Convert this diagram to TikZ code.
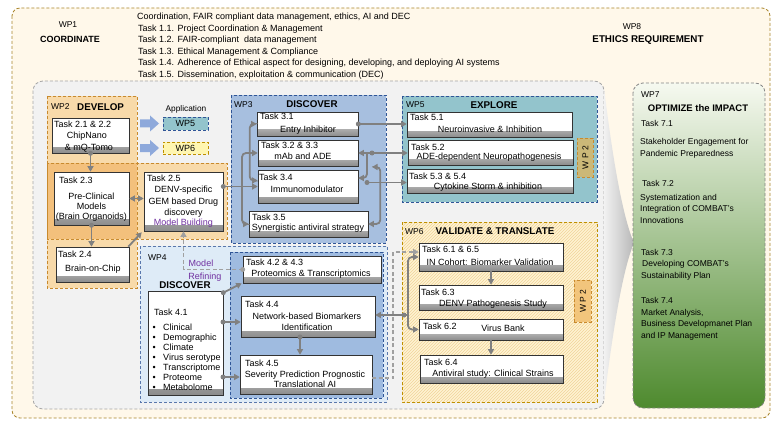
\documentclass[tikz,border=0pt]{standalone}
\usepackage{fontspec}
\setmainfont{Liberation Sans}
\usetikzlibrary{arrows.meta,patterns,fit,calc}
\newcommand{\fnine}{\fontsize{9}{11}\selectfont}
\newcommand{\fhd}{\fontsize{9.8}{11}\selectfont\bfseries}
\newcommand{\fwp}{\fontsize{8.5}{10}\selectfont}
\newcommand{\fsvn}{\fontsize{8.5}{10}\selectfont}
\definecolor{outerfill}{HTML}{FFF8EA}
\definecolor{outerdraw}{HTML}{A8842A}
\definecolor{grayfill}{HTML}{F2F2F2}
\definecolor{graydraw}{HTML}{A6A6A6}
\definecolor{wptwoA}{HTML}{F8DAAA}
\definecolor{wptwoB}{HTML}{F3C07C}
\definecolor{wptwodraw}{HTML}{C88A2E}
\definecolor{wpthree}{HTML}{A7BFDF}
\definecolor{bluedraw}{HTML}{2F5597}
\definecolor{wpfour}{HTML}{DEEBF7}
\definecolor{wpfourin}{HTML}{9FBBE0}
\definecolor{wpfive}{HTML}{93C4CC}
\definecolor{wpsix}{HTML}{FFF3D2}
\definecolor{wpsixdraw}{HTML}{BF9000}
\definecolor{hatchc}{HTML}{F0D49A}
\definecolor{tagfive}{HTML}{CBB878}
\definecolor{tagsix}{HTML}{F2C57C}
\definecolor{cgray}{HTML}{808080}
\definecolor{cdash}{HTML}{A0A0A0}
\definecolor{cblk}{HTML}{8EA9DB}
\definecolor{purp}{HTML}{7030A0}
\definecolor{gtop}{HTML}{F6F9F0}
\definecolor{gmid}{HTML}{E1EDD3}
\definecolor{gbot}{HTML}{4E8A2E}
\newcommand{\tbox}[5]{\node[taskbox, fit={(#2,#3) (#4,#5)}] (#1) {};}
\begin{document}
\begin{tikzpicture}[x=1pt,y=-1pt,
  tx/.style={font=\fnine, inner sep=0pt, anchor=base},
  txl/.style={tx, anchor=base west},
  hd/.style={font=\fhd, inner sep=0pt, anchor=base},
  wpl/.style={font=\fwp, inner sep=0pt, anchor=base west},
  sv/.style={font=\fsvn, inner sep=0pt, anchor=base west},
  bdash/.style={dash pattern=on 3pt off 2pt, line width=0.8pt},
  taskbox/.style={draw=black!80, line width=0.6pt, fill=white, inner sep=0pt,
    path picture={\shade[top color=white,bottom color=black!45]
      ([yshift=6pt]path picture bounding box.south west) rectangle (path picture bounding box.south east);}},
  conn/.style={draw=cgray, line width=1.8pt, -{Triangle[length=5.5pt,width=6pt]}},
  conn2/.style={draw=cgray, line width=1.8pt, {Triangle[length=5.5pt,width=6pt]}-{Triangle[length=5.5pt,width=6pt]}},
  dconn/.style={conn, draw=cdash, dash pattern=on 4pt off 2.5pt},
  tag/.style={draw=wptwodraw, bdash, inner sep=0pt, font=\fwp}
]
\useasboundingbox (0,0) rectangle (780,428);

% outer WP1 / WP8
\draw[bdash, draw=outerdraw, fill=outerfill, rounded corners=8pt] (12,8) rectangle (770,418);
\node[tx, font=\fwp] (wp1) at (68,28) {WP1};
\node[hd, font=\fontsize{9}{11}\selectfont\bfseries] (coord) at (70,43) {COORDINATE};
\node[txl] (h0) at (137,20) {Coordination, FAIR compliant data management, ethics, AI and DEC};
\node[txl] (h1) at (138,31.5) {Task 1.1. Project Coordination \& Management};
\node[txl] (h2) at (138,43) {Task 1.2. FAIR-compliant\ \ data management};
\node[txl] (h3) at (138,54.5) {Task 1.3. Ethical Management \& Compliance};
\node[txl] (h4) at (138,66) {Task 1.4. Adherence of Ethical aspect for designing, developing, and deploying AI systems};
\node[txl] (h5) at (138,77.5) {Task 1.5. Dissemination, exploitation \& communication (DEC)};
\node[tx, font=\fwp] (wp8) at (632,30) {WP8};
\node[hd] (eth) at (648,42.5) {ETHICS REQUIREMENT};

% gray box
\draw[bdash, draw=graydraw, fill=grayfill, rounded corners=10pt] (33,81) rectangle (604,409);
% chevron
\shade[left color=grayfill, right color=black!28] (604,88) .. controls (614,170) and (624,220) .. (634,243) .. controls (624,266) and (614,320) .. (604,402) -- cycle;

% WP7
\shade[top color=gtop, middle color=gmid, bottom color=gbot, rounded corners=10pt] (633,83) rectangle (765,408);
\draw[bdash, draw=graydraw!80!black, rounded corners=10pt] (633,83) rectangle (765,408);
\node[sv] (wp7) at (641,98) {WP7};
\node[hd, font=\fontsize{9.5}{11}\selectfont\bfseries] (opt) at (698,111.5) {OPTIMIZE the IMPACT};
\node[sv] (t71) at (641,126) {Task 7.1};
\node[sv] (t71a) at (640,145) {Stakeholder Engagement for};
\node[sv] (t71b) at (640,156) {Pandemic Preparedness};
\node[sv] (t72) at (642,186) {Task 7.2};
\node[sv] (t72a) at (640,200) {Systematization and};
\node[sv] (t72b) at (640,211) {Integration of COMBAT's};
\node[sv] (t72c) at (640,223) {Innovations};
\node[sv] (t73) at (641,255) {Task 7.3};
\node[sv] (t73a) at (642,266) {Developing COMBAT's};
\node[sv] (t73b) at (641,278) {Sustainability Plan};
\node[sv] (t74) at (641,303) {Task 7.4};
\node[sv] (t74a) at (641,315) {Market Analysis,};
\node[sv] (t74b) at (641,326) {Business Developmanet Plan};
\node[sv] (t74c) at (641,338) {and IP Management};

% WP2
\fill[wptwoA] (47,96) rectangle (137,288);
\fill[wptwoA] (47,163) rectangle (227,239);
\fill[wptwoB] (47,163) rectangle (137,239);
\draw[bdash, draw=wptwodraw] (47,96) rectangle (137,288);
\draw[bdash, draw=wptwodraw] (47,163) rectangle (227,239);
\node[wpl] (wp2) at (51,110) {WP2};
\node[hd, anchor=base west] (dev) at (77,110.5) {DEVELOP};

% Application legend
\node[tx, font=\fontsize{8.3}{10}\selectfont] (app) at (186,112) {Application};
\node[draw=bluedraw, bdash, fill=wpfive, minimum width=45pt, minimum height=13pt, inner sep=0pt, font=\fnine] (ap5) at (185.5,123.5) {WP5};
\node[draw=wpsixdraw, bdash, fill=wpsix!80!yellow!90, minimum width=45pt, minimum height=12pt, inner sep=0pt, font=\fnine] (ap6) at (185.5,148) {WP6};
\fill[cblk] (140,119.5) -- (150,119.5) -- (150,115.5) -- (159,123.5) -- (150,131.5) -- (150,127.5) -- (140,127.5) -- cycle;
\fill[cblk] (140,144) -- (150,144) -- (150,140) -- (159,148) -- (150,156) -- (150,152) -- (140,152) -- cycle;

\tbox{t21}{52}{118}{129}{153}
\node[txl] (t21a) at (54,128) {Task 2.1 \& 2.2};
\node[tx] (t21b) at (87,139) {ChipNano};
\node[tx] (t21c) at (89,150) {\& mQ-Tomo};

\tbox{t23}{54}{172}{129}{225}
\node[txl] (t23a) at (59,183) {Task 2.3};
\node[tx] (t23b) at (91.5,199) {Pre-Clinical};
\node[tx] (t23c) at (91.5,209.5) {Models};
\node[tx] (t23d) at (91.5,219.5) {(Brain Organoids)};

\tbox{t25}{144}{172}{223}{231}
\node[txl] (t25a) at (147,181) {Task 2.5};
\node[tx] (t25b) at (183.5,192) {DENV-specific};
\node[tx] (t25c) at (183.5,204) {GEM based Drug};
\node[tx] (t25d) at (183.5,215) {discovery};
\node[tx, text=purp] (t25e) at (183.5,225.7) {Model Building};

\tbox{t24}{56}{247}{129}{282}
\node[txl] (t24a) at (58,257) {Task 2.4};
\node[tx] (t24b) at (93,271) {Brain-on-Chip};

% WP3
\draw[bdash, draw=bluedraw, fill=wpthree] (231,95) rectangle (386,243);
\node[wpl] (wp3) at (234,108) {WP3};
\node[hd] (dis3) at (312,107.5) {DISCOVER};
\tbox{t31}{257}{112}{358}{136}
\node[txl] (t31a) at (260,120) {Task 3.1};
\node[tx] (t31b) at (308,132) {Entry Inhibitor};
\tbox{t32}{258}{140}{358}{166}
\node[txl] (t32a) at (261,149) {Task 3.2 \& 3.3};
\node[tx] (t32b) at (303,159) {mAb and ADE};
\tbox{t34}{258}{170}{358}{203}
\node[txl] (t34a) at (259,180) {Task 3.4};
\node[tx] (t34b) at (307,192) {Immunomodulator};
\tbox{t35}{249}{211}{368}{237}
\node[txl] (t35a) at (252,220) {Task 3.5};
\node[tx] (t35b) at (308,230.5) {Synergistic antiviral strategy};

% WP4
\draw[bdash, draw=bluedraw!80, fill=wpfour] (140,246) rectangle (387,402);
\draw[bdash, draw=bluedraw, fill=wpfourin] (230,252) rectangle (383,398);
\node[wpl] (wp4) at (148,260) {WP4};
\node[hd] (dis4) at (185,288.5) {DISCOVER};
\node[tx, text=purp] (mr1) at (201,266.5) {Model};
\node[tx, text=purp] (mr2) at (205,279) {Refining};
\tbox{t41}{148}{291}{223}{395}
\node[txl] (t41a) at (154,315) {Task 4.1};
\foreach \i/\w [count=\k] in {330/Clinical,340/Demographic,350/Climate,360/Virus serotype,370/Transcriptome,380/Proteome,390/Metabolome}{
  \node[txl] (b\k) at (152.5,\i) {\textbullet};
  \node[txl] (l\k) at (163,\i) {\w};
}
\tbox{t42}{243}{256}{381}{283}
\node[txl] (t42a) at (246,265) {Task 4.2 \& 4.3};
\node[tx] (t42b) at (311,276) {Proteomics \& Transcriptomics};
\tbox{t44}{241}{296}{375}{337}
\node[txl] (t44a) at (245,307) {Task 4.4};
\node[tx] (t44b) at (307,319) {Network-based Biomarkers};
\node[tx] (t44c) at (307,330) {Identification};
\tbox{t45}{240}{355}{372}{394}
\node[txl] (t45a) at (245,366) {Task 4.5};
\node[tx] (t45b) at (305,377) {Severity Prediction Prognostic};
\node[tx] (t45c) at (305,387.5) {Translational AI};

% WP5
\draw[bdash, draw=bluedraw, fill=wpfive] (402,96) rectangle (597,202);
\node[wpl] (wp5) at (406,108) {WP5};
\node[hd] (exp) at (494,108.5) {EXPLORE};
\tbox{t51}{407}{112}{572}{137}
\node[txl] (t51a) at (410,121) {Task 5.1};
\node[tx] (t51b) at (490,132) {Neuroinvasive \& Inhibition};
\tbox{t52}{408}{140}{573}{165}
\node[txl] (t52a) at (411,150) {Task 5.2};
\node[tx] (t52b) at (489,160) {ADE-dependent Neuropathogenesis};
\tbox{t53}{407}{169}{573}{193}
\node[txl] (t53a) at (409,179) {Task 5.3 \& 5.4};
\node[tx] (t53b) at (488,189) {Cytokine Storm \& inhibition};
\node[tag, fill=tagfive, minimum width=16pt, minimum height=39pt] (tg5) at (585,157.5) {};
\node[font=\fwp, rotate=90, inner sep=0pt] (tg5t) at (585.5,157.5) {W P 2};

% WP6
\fill[wpsix] (402,222) rectangle (597,402);
\fill[pattern=north east lines, pattern color=hatchc] (402,222) rectangle (597,402);
\draw[bdash, draw=wpsixdraw] (402,222) rectangle (597,402);
\node[wpl] (wp6) at (405,234) {WP6};
\node[hd] (val) at (495,234.5) {VALIDATE \& TRANSLATE};
\tbox{t61}{419}{243}{563}{271}
\node[txl] (t61a) at (422,252) {Task 6.1 \& 6.5};
\node[tx] (t61b) at (490,265) {IN Cohort: Biomarker Validation};
\tbox{t63}{419}{285}{563}{310}
\node[txl] (t63a) at (421,295) {Task 6.3};
\node[tx] (t63b) at (493,306) {DENV Pathogenesis Study};
\tbox{t62}{419}{319}{563}{340}
\node[txl] (t62a) at (423,329) {Task 6.2};
\node[tx] (t62b) at (503,331) {Virus Bank};
\tbox{t64}{420}{355}{563}{383}
\node[txl] (t64a) at (424,365) {Task 6.4};
\node[tx] (t64b) at (493,376) {Antiviral study: Clinical Strains};
\node[tag, fill=tagsix, minimum width=17pt, minimum height=42pt] (tg6) at (582.5,301) {};
\node[font=\fwp, rotate=90, inner sep=0pt] (tg6t) at (583,301) {W P 2};

% ---- connectors ----
\fill[cgray] (t21.south) circle (2.5pt);
\draw[conn] (t21.south) -- (t21.south |- t23.north);
\draw[conn2] (t23.east) -- (t23.east -| t25.west);
\fill[cgray] (t23.south) circle (2.5pt);
\draw[conn] (t23.south) -- (t23.south |- t24.north);
\draw[conn] ([xshift=-1pt]t24.north east) -- ([xshift=-2pt,yshift=-1pt]t25.south west);

\coordinate (s25) at (t25.east |- t34.west);
\coordinate (j3) at (242,186.5);
\draw[conn, rounded corners=4pt] (j3) |- (t32.west);
\draw[conn, rounded corners=4pt] (j3) |- (t35.west);
\draw[conn] (s25) -- (t34.west);
\fill[cgray] (s25) circle (2.5pt);
\draw[conn2, rounded corners=4pt] (t31.west) -- ++(-7,0) |- ([yshift=6pt]t34.west);

\fill[cgray] (t31.east) circle (2.5pt);
\draw[conn] (t31.east) -- (t31.east -| t51.west);
\coordinate (j32) at (367,153);
\coordinate (d32) at (372,153);
\draw[conn] (d32) -- (t32.east);
\draw[conn] (d32) -- (d32 -| t52.west);
\draw[conn, rounded corners=4pt] (j32) |- ([yshift=8.5pt]t34.east);
\fill[cgray] (d32) circle (2.5pt);
\coordinate (d34) at (367,182.5);
\fill[cgray] (d34) circle (2.5pt);
\draw[conn] (d34) -- (d34 -| t53.west);
\coordinate (f35) at (372,167);
\draw[conn2, rounded corners=4pt] (t35.east) -- ++(12,0) |- (f35);

\fill[cdash] (t42.west) circle (2.5pt);
\draw[dconn] (t42.west) -| (t25.south);
\coordinate (d41a) at ([yshift=-2pt]t41.north east);
\fill[cgray] (d41a) circle (2.5pt);
\draw[conn] (d41a) -- ([xshift=-1pt]t42.south west);
\coordinate (d41b) at (223,322);
\fill[cgray] (d41b) circle (2.5pt);
\draw[conn] (d41b) -- (d41b -| t44.west);
\coordinate (d41c) at (223,377);
\fill[cgray] (d41c) circle (2.5pt);
\draw[conn] (d41c) -- (d41c -| t45.west);
\coordinate (d44) at (300,337);
\fill[cgray] (d44) circle (2.5pt);
\draw[conn] (d44) -- (d44 |- t45.north);

\coordinate (d45) at (372,378);
\draw[dconn] (d45) -- ++(21,0) |- ([yshift=5pt]t61.west);
\coordinate (j6) at (404,315);
\coordinate (j6v) at (408,315);
\draw[conn, rounded corners=4pt] (j6v) |- (t61.west);
\draw[conn, rounded corners=4pt] (j6v) |- (t62.west);
\draw[conn] (j6v) -- (j6v -| t44.east);
\fill[cgray] (j6) circle (2.5pt);
\draw[conn] (t61.south) -- (t61.south |- t63.north);
\draw[conn] (t62.south) -- (t62.south |- t64.north);
\end{tikzpicture}
\end{document}
